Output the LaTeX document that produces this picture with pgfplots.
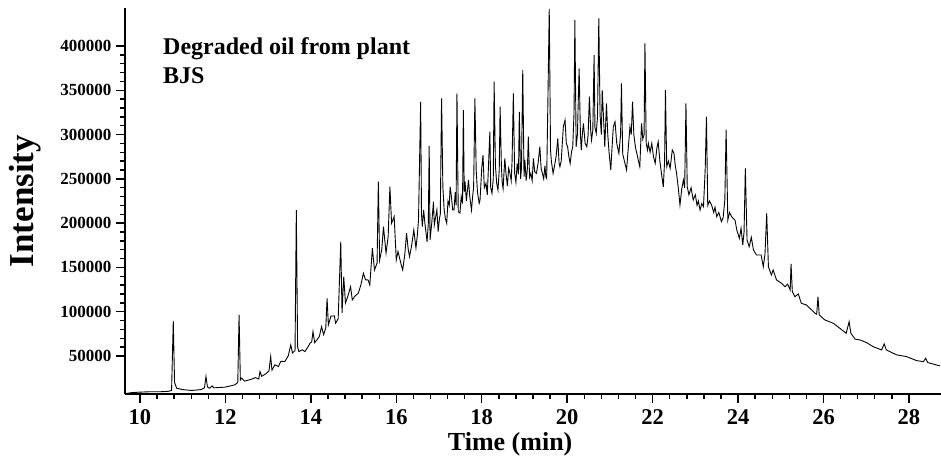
\documentclass[border=0pt]{standalone}
\usepackage{fontspec}
\setmainfont{Liberation Serif}
\usepackage{pgfplots}
\pgfplotsset{compat=1.18}
\begin{document}
\begin{tikzpicture}
\begin{axis}[
  scale only axis,
  width=816pt, height=386pt,
  xmin=9.65, xmax=28.75,
  ymin=7000, ymax=443000,
  axis lines=left,
  axis line style={-, line width=2pt},
  xtick={10,12,14,16,18,20,22,24,26,28},
  xticklabels={10,12,14,16,18,20,22,24,26,28},
  ytick={50000,100000,150000,200000,250000,300000,350000,400000},
  yticklabels={50000,100000,150000,200000,250000,300000,350000,400000},
  minor x tick num=4,
  minor y tick num=4,
  tick align=outside,
  major tick length=9pt,
  minor tick length=5pt,
  tick style={line width=1.4pt, black},
  scaled y ticks=false,
  xticklabel style={font=\fontsize{22.5}{24}\selectfont\bfseries, yshift=-3pt},
  yticklabel style={font=\fontsize{17}{19}\selectfont\bfseries, xshift=-1pt},
  xlabel={Time (min)},
  ylabel={Intensity},
  xlabel style={font=\fontsize{26}{28}\selectfont\bfseries, at={(axis description cs:0.472,-0.1295)}, anchor=center},
  ylabel style={font=\fontsize{35}{37}\selectfont\bfseries, at={(axis description cs:-0.1225,0.5)}, anchor=center},
]
\coordinate (sw) at (rel axis cs:0,0);
\node[anchor=north west, align=left, inner sep=0pt, font=\fontsize{24}{29}\selectfont\bfseries] at (axis description cs:0.0466,0.9249) {Degraded oil from plant\\BJS};
\addplot[black, line width=0.9pt] coordinates {
(9.66,7500) (9.8,8500) (9.95,9000) (10.2,9500) (10.45,9500) (10.66,10000) (10.74,11000) (10.78,89500) (10.81,20000) (10.86,13500)
(11.0,12000) (11.21,11000) (11.43,12000) (11.51,14000) (11.545,26700) (11.58,15000) (11.63,13500) (11.69,16100) (11.73,14000) (11.99,14700)
(12.22,17300) (12.29,20000) (12.32,96300) (12.35,22900) (12.38,25000) (12.45,21500) (12.61,23700) (12.7,25500) (12.78,24000) (12.81,32300)
(12.85,27000) (12.95,30000) (13.02,33000) (13.06,49300) (13.09,34000) (13.16,40000) (13.24,38000) (13.3,44000) (13.39,43600) (13.47,50000)
(13.53,62400) (13.57,53400) (13.63,56000) (13.66,214800) (13.69,60000) (13.72,54900) (13.8,57000) (13.86,54900) (13.93,60000) (13.98,64300)
(14.02,66000) (14.05,77500) (14.09,65000) (14.14,68100) (14.2,72000) (14.25,83100) (14.3,74000) (14.35,82000) (14.38,115000) (14.41,85000)
(14.47,95000) (14.55,95200) (14.58,87000) (14.64,92000) (14.70,179000) (14.73,98500) (14.77,139600) (14.81,109800) (14.87,118000) (14.93,128200)
(14.97,113300) (15.04,118000) (15.11,120800) (15.17,130000) (15.23,143400) (15.28,136000) (15.34,135800) (15.38,130000) (15.44,171600) (15.49,147100)
(15.55,155000) (15.58,246800) (15.61,158400) (15.66,170000) (15.70,196000) (15.76,166300) (15.81,185000) (15.85,241100) (15.89,200000) (15.95,207300)
(16.0,158400) (16.04,168000) (16.08,160000) (16.12,152000) (16.15,147100) (16.2,165000) (16.24,188600) (16.28,170000) (16.31,162200) (16.36,175000) (16.41,192300) (16.46,172000) (16.49,185000) (16.52,203600)
(16.57,337100) (16.59,210000) (16.61,196000) (16.64,215000) (16.67,199800) (16.72,179000) (16.75,200000) (16.77,287100) (16.79,181000) (16.83,200000)
(16.87,224200) (16.89,198000) (16.91,203600) (16.95,215000) (16.98,190400) (17.01,205000) (17.03,210000) (17.06,340900) (17.09,241100) (17.12,215000)
(17.15,205000) (17.18,199800) (17.21,225000) (17.24,220000) (17.26,241100) (17.29,230000) (17.32,215000) (17.35,214800) (17.38,235000) (17.40,220000)
(17.42,346600) (17.45,212900) (17.49,211400) (17.52,230000) (17.55,222000) (17.57,327700) (17.59,235000) (17.61,246800) (17.64,225000) (17.69,248700)
(17.72,230000) (17.76,214800) (17.79,232000) (17.81,240000) (17.84,340900) (17.87,260000) (17.90,235000) (17.94,222400) (17.96,226000) (18.00,262000)
(18.03,276900) (18.06,240000) (18.10,245000) (18.13,232000) (18.15,255000) (18.19,303300) (18.21,240000) (18.24,233700) (18.27,250000) (18.29,359700)
(18.32,265000) (18.35,245000) (18.38,237400) (18.41,260000) (18.43,331500) (18.46,265000) (18.48,245000) (18.50,239000) (18.54,273200) (18.57,255000)
(18.60,242000) (18.63,262000) (18.66,256300) (18.69,248000) (18.71,270000) (18.74,346600) (18.77,256300) (18.80,246000) (18.83,267500) (18.86,255000)
(18.88,325800) (18.91,250000) (18.93,262000) (18.96,372900) (18.99,252500) (19.01,271300) (19.04,248000) (19.07,262000) (19.09,297600) (19.12,252000)
(19.15,256300) (19.18,248000) (19.21,273200) (19.24,258000) (19.28,256300) (19.32,268000) (19.36,286300) (19.39,262000) (19.42,256300) (19.45,250000)
(19.48,265000) (19.50,252500) (19.52,250600) (19.55,342800) (19.58,442000) (19.61,282600) (19.63,270000) (19.67,256300) (19.70,263700) (19.74,275000)
(19.78,295800) (19.81,268000) (19.83,263700) (19.86,270000) (19.91,308900) (19.95,316500) (19.98,290000) (20.01,286300) (20.04,275000) (20.07,267500)
(20.10,280000) (20.13,286300) (20.16,324000) (20.18,429400) (20.21,286300) (20.24,300000) (20.26,339000) (20.28,374800) (20.31,300000) (20.33,282600)
(20.35,298000) (20.38,312700) (20.42,290000) (20.46,286300) (20.49,300000) (20.52,342800) (20.55,305000) (20.57,293900) (20.60,305000) (20.63,389800)
(20.65,308000) (20.68,301400) (20.71,320000) (20.74,431300) (20.77,322000) (20.80,300000) (20.82,350300) (20.85,320000) (20.88,286300) (20.92,335300)
(20.95,300000) (20.98,280000) (21.02,260000) (21.05,285000) (21.08,308900) (21.12,314500) (21.16,290000) (21.21,278800) (21.25,300000) (21.27,357900)
(21.30,278000) (21.34,270000) (21.39,260000) (21.43,285000) (21.47,308900) (21.50,300000) (21.53,337100) (21.56,300000) (21.60,285000) (21.63,278800)
(21.67,270000) (21.70,263700) (21.74,312700) (21.77,295000) (21.80,300000) (21.82,403000) (21.85,290000) (21.88,282600) (21.90,290100) (21.94,280000)
(21.98,290100) (22.02,275000) (22.06,267500) (22.10,285000) (22.13,292000) (22.17,270000) (22.21,255000) (22.25,241100) (22.28,270000) (22.30,350300)
(22.33,263700) (22.37,270000) (22.41,261900) (22.46,282600) (22.50,278800) (22.53,265000) (22.56,256300) (22.60,240000) (22.64,220500) (22.68,238000)
(22.72,248700) (22.75,240000) (22.78,335300) (22.81,241100) (22.85,232000) (22.90,240000) (22.95,226100) (23.00,232000) (23.04,220000) (23.07,225000)
(23.11,214800) (23.15,222000) (23.19,218600) (23.23,260000) (23.26,320200) (23.29,220000) (23.33,225000) (23.38,220500) (23.43,212000) (23.46,218000)
(23.50,207300) (23.55,212000) (23.61,201700) (23.65,206000) (23.69,226100) (23.72,305200) (23.76,203600) (23.80,212000) (23.85,207300) (23.93,203000)
(23.97,192300) (24.03,182900) (24.07,194200) (24.11,175300) (24.14,190000)
(24.17,261900) (24.21,181000) (24.26,173400) (24.31,184000) (24.36,169700) (24.43,164000) (24.54,164000) (24.59,150800) (24.63,165000) (24.67,211100)
(24.71,150800) (24.78,141400) (24.82,147100) (24.90,135800) (25.02,132000) (25.10,128200) (25.16,131000) (25.22,124500) (25.24,153900) (25.27,122600)
(25.33,116900) (25.41,120000) (25.48,109500) (25.60,107600) (25.72,102000) (25.80,98200) (25.84,97000) (25.87,116900) (25.90,96300) (26.03,90700)
(26.23,86900) (26.38,81300) (26.53,75600) (26.60,88700) (26.64,75600) (26.74,68900) (26.86,68000) (27.01,65000) (27.16,60500) (27.36,56800)
(27.42,63600) (27.47,56800) (27.71,51200) (27.94,49300) (28.18,44700) (28.34,43600) (28.39,47400) (28.44,42500) (28.73,38700)
};
\end{axis}
\pgfresetboundingbox
\path[use as bounding box] ([xshift=-125pt,yshift=-67pt]sw) rectangle ([xshift=816pt,yshift=394pt]sw);
\end{tikzpicture}
\end{document}
